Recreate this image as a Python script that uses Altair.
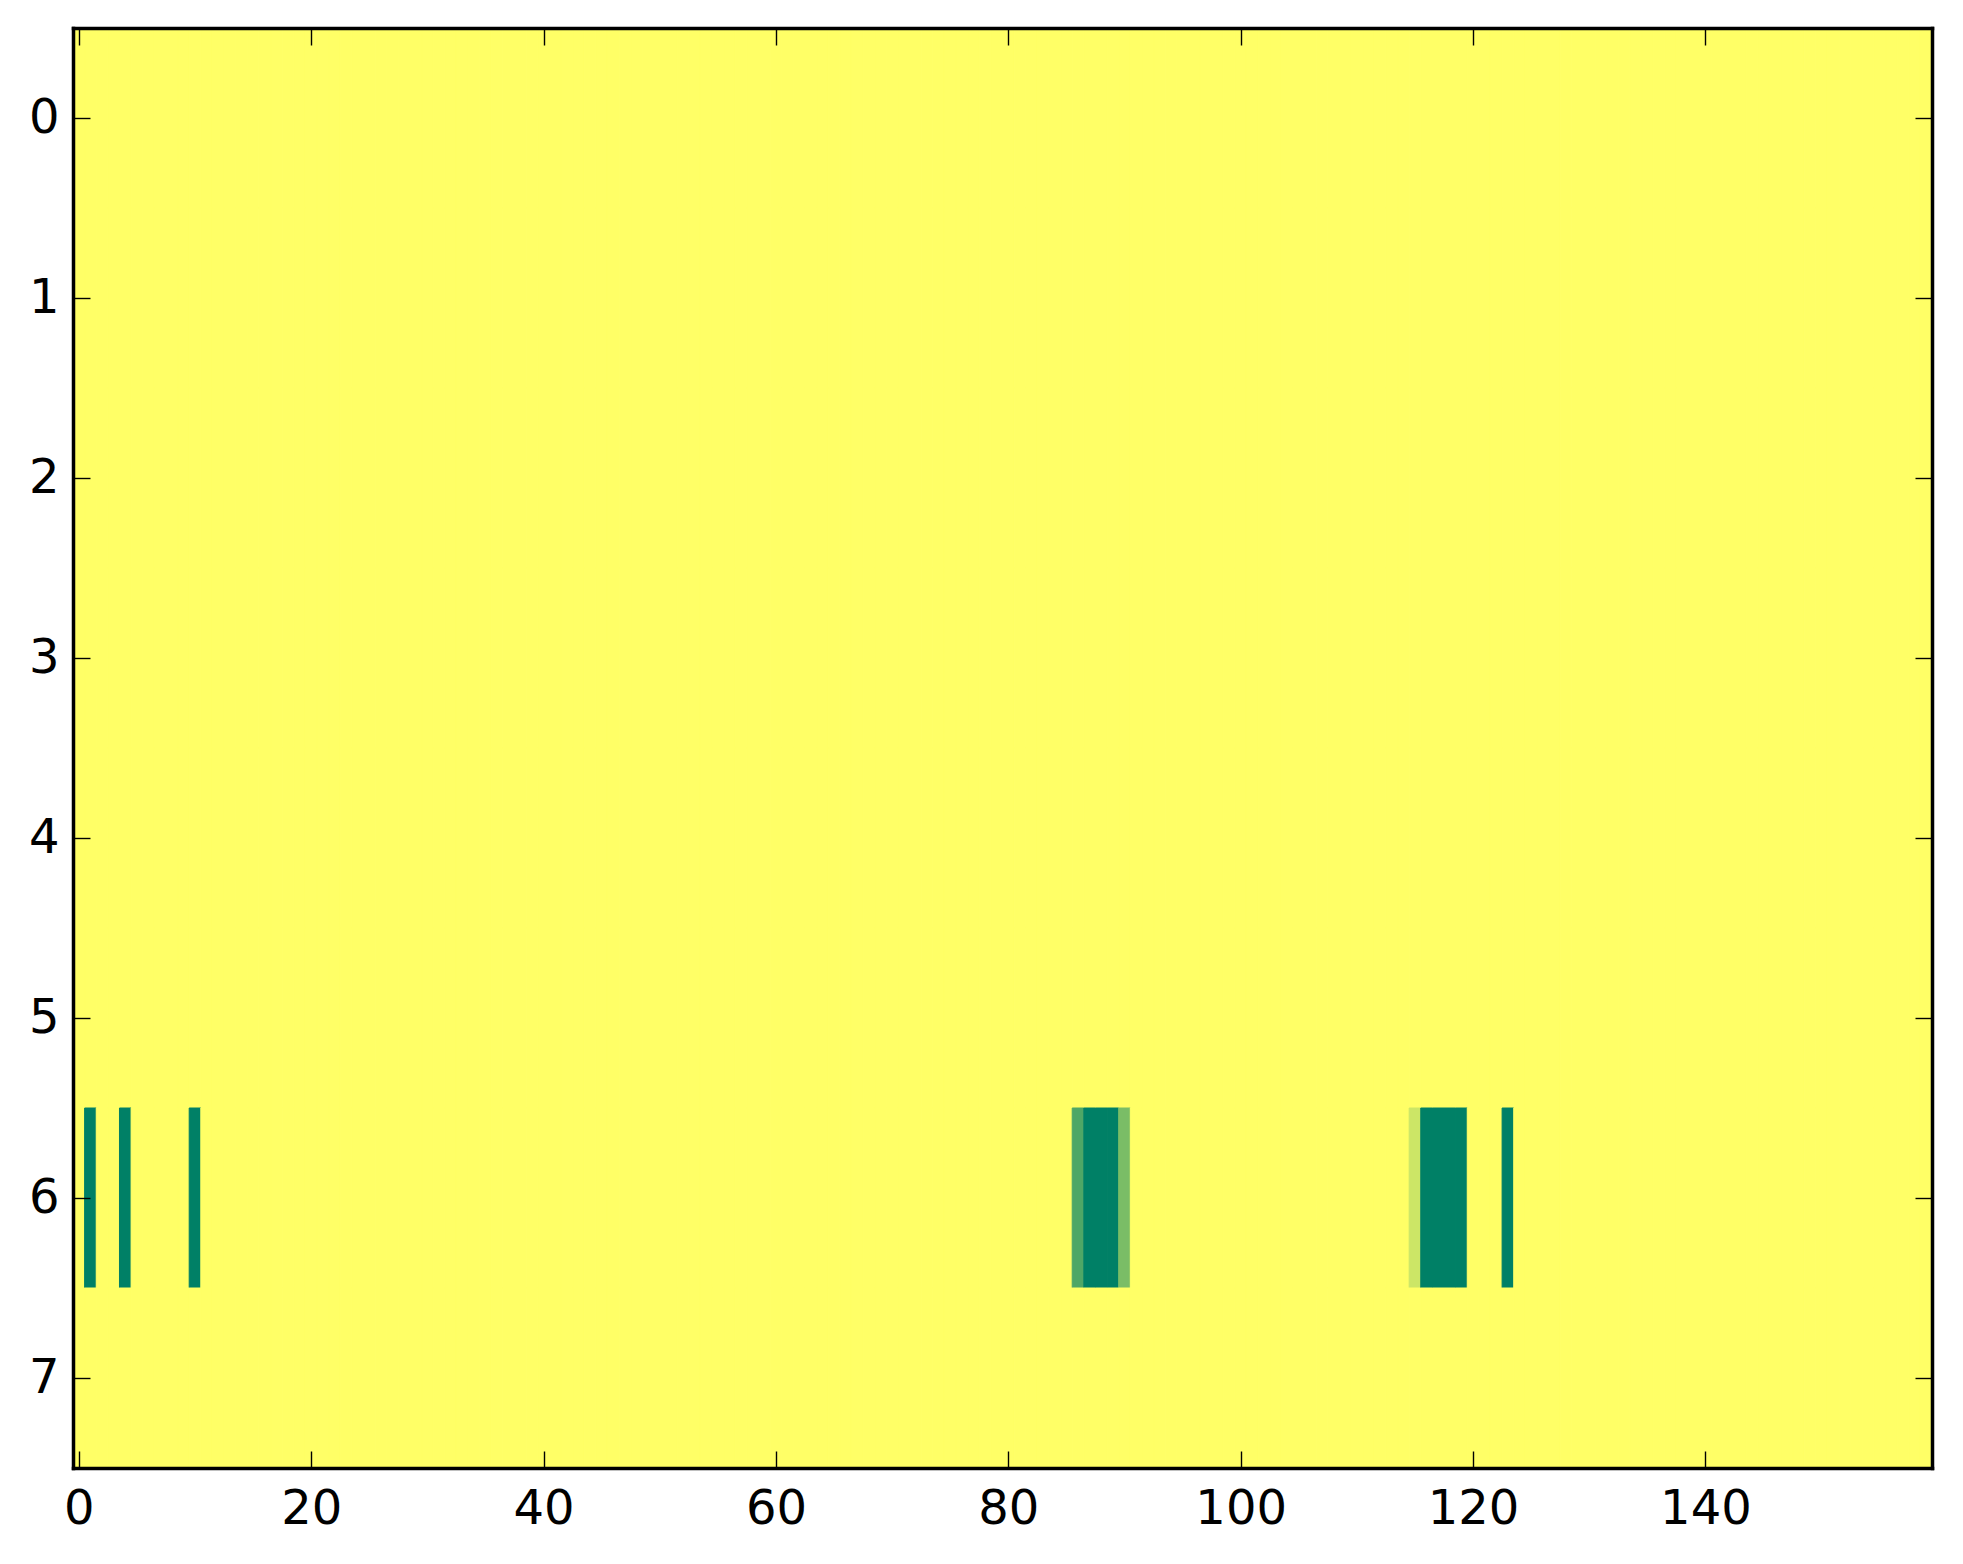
import altair as alt
import pandas as pd

n_rows = 8
n_cols = 160
default_value = 1.0
special_row = 6
special_cols = [1, 4, 10, 86, 87, 88, 89, 90, 115, 116, 117, 118, 119, 123]
special_vals = [0.0, 0.0, 0.0, 0.31, 0.0, 0.0, 0.0, 0.48, 0.80, 0.0, 0.0, 0.0, 0.0, 0.0]
x_ticks = [0, 20, 40, 60, 80, 100, 120, 140]
y_ticks = [0, 1, 2, 3, 4, 5, 6, 7]

special = dict(zip(special_cols, special_vals))
records = []
for r in range(n_rows):
    for c in range(n_cols):
        v = special.get(c, default_value) if r == special_row else default_value
        records.append({"col": c, "row": r, "x0": c - 0.5, "x1": c + 0.5,
                        "y0": r - 0.5, "y1": r + 0.5, "v": v})
df = pd.DataFrame(records)

xscale = alt.Scale(domain=[-0.5, n_cols - 0.5], nice=False, zero=False)
yscale = alt.Scale(domain=[-0.5, n_rows - 0.5], nice=False, zero=False, reverse=True)
cscale = alt.Scale(domain=[0, 1], range=["#008066", "#ffff66"], interpolate="rgb")

FONT = "DejaVu Sans"
FS = 48
FRAME_W = 3.5

label_x = alt.Axis(orient="bottom", values=x_ticks, ticks=False, domain=True, grid=False,
                   domainColor="black", domainWidth=FRAME_W, domainCap="square",
                   labelFont=FONT, labelFontSize=FS, labelColor="black", labelPadding=17,
                   title=None, format="d", labelFlush=False, labelOverlap=False, zindex=3)
label_y = alt.Axis(orient="left", values=y_ticks, ticks=False, domain=True, grid=False,
                   domainColor="black", domainWidth=FRAME_W, domainCap="square",
                   labelFont=FONT, labelFontSize=FS, labelColor="black", labelPadding=14,
                   title=None, format="d", labelBaseline="middle", labelFlush=False,
                   labelOverlap=False, zindex=3)

def tick_axis(orient, vals):
    return alt.Axis(orient=orient, values=vals, labels=False, domain=False, grid=False,
                    ticks=True, tickSize=17, tickWidth=1.4, tickColor="black",
                    offset=-17, title=None, zindex=2)

def frame_axis(orient, vals):
    return alt.Axis(orient=orient, values=vals, labels=False, ticks=False, grid=False,
                    domain=True, domainColor="black", domainWidth=FRAME_W,
                    domainCap="square", title=None, zindex=3)

heat = alt.Chart(df).mark_rect(strokeWidth=1).encode(
    x=alt.X("x0:Q", scale=xscale, axis=label_x),
    x2="x1:Q",
    y=alt.Y("y0:Q", scale=yscale, axis=label_y),
    y2="y1:Q",
    color=alt.Color("v:Q", scale=cscale, legend=None),
    stroke=alt.Stroke("v:Q", scale=cscale, legend=None),
)

ticks_bl = alt.Chart(df).mark_rect(opacity=0).encode(
    x=alt.X("x0:Q", scale=xscale, axis=tick_axis("bottom", x_ticks)),
    x2="x1:Q",
    y=alt.Y("y0:Q", scale=yscale, axis=tick_axis("left", y_ticks)),
    y2="y1:Q",
)

ticks_tr = alt.Chart(df).mark_rect(opacity=0).encode(
    x=alt.X("x0:Q", scale=xscale, axis=tick_axis("top", x_ticks)),
    x2="x1:Q",
    y=alt.Y("y0:Q", scale=yscale, axis=tick_axis("right", y_ticks)),
    y2="y1:Q",
)

frame_tr = alt.Chart(df).mark_rect(opacity=0).encode(
    x=alt.X("x0:Q", scale=xscale, axis=frame_axis("top", x_ticks)),
    x2="x1:Q",
    y=alt.Y("y0:Q", scale=yscale, axis=frame_axis("right", y_ticks)),
    y2="y1:Q",
)

chart = alt.layer(heat, ticks_bl, ticks_tr, frame_tr).resolve_axis(
    x="independent", y="independent"
).properties(
    width=1859,
    height=1440,
    autosize=alt.AutoSizeParams(type="none"),
    padding={"left": 65, "top": 20, "right": 20, "bottom": 70},
    background="white",
).configure_view(
    strokeWidth=0
)

chart.save("out.html", embed_options={"renderer": "svg", "actions": False})
